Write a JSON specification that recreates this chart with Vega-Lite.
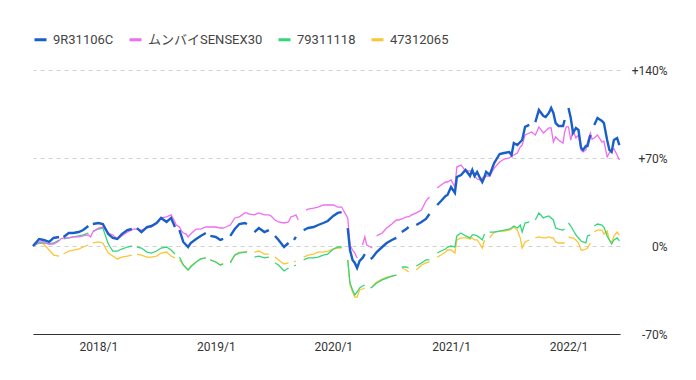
{
"$schema": "https://vega.github.io/schema/vega-lite/v6.json",
"width": 587, "height": 264,
"autosize": {"type": "none"},
"padding": {"left": 33, "top": 70, "right": 76, "bottom": 46},
"background": "white",
"config": {"view": {"stroke": null}, "font": "Roboto, 'Noto Sans CJK JP', sans-serif"},
"data": {"values": [
{"d":"2017-06-12","9R31106C":0,"ムンバイSENSEX30":0,"79311118":0,"47312065":0},
{"d":"2017-07-01","9R31106C":5.6,"ムンバイSENSEX30":3.2,"79311118":2.4,"47312065":2.4},
{"d":"2017-07-15","9R31106C":4.8,"ムンバイSENSEX30":3.2,"79311118":2.4,"47312065":1.6},
{"d":"2017-08-01","9R31106C":3.2,"ムンバイSENSEX30":1.6,"79311118":1.6,"47312065":-3.2},
{"d":"2017-08-15","9R31106C":6.4,"ムンバイSENSEX30":1.6,"79311118":2.4,"47312065":-7.2},
{"d":"2017-09-01","9R31106C":7.2,"ムンバイSENSEX30":4.0,"79311118":4.8,"47312065":-8.0},
{"d":"2017-09-06","9R31106C":null,"ムンバイSENSEX30":5.6,"79311118":null,"47312065":null},
{"d":"2017-09-15","9R31106C":7.2,"ムンバイSENSEX30":6.4,"79311118":5.6,"47312065":-6.4},
{"d":"2017-10-01","9R31106C":10.3,"ムンバイSENSEX30":6.4,"79311118":6.4,"47312065":-4.0},
{"d":"2017-10-15","9R31106C":10.3,"ムンバイSENSEX30":7.2,"79311118":7.2,"47312065":-3.2},
{"d":"2017-11-01","9R31106C":11.1,"ムンバイSENSEX30":7.2,"79311118":8.0,"47312065":-2.4},
{"d":"2017-11-15","9R31106C":12.7,"ムンバイSENSEX30":8.0,"79311118":8.8,"47312065":-0.8},
{"d":"2017-12-01","9R31106C":15.9,"ムンバイSENSEX30":8.8,"79311118":10.3,"47312065":0.8},
{"d":"2017-12-08","9R31106C":null,"ムンバイSENSEX30":7.2,"79311118":null,"47312065":null},
{"d":"2017-12-15","9R31106C":17.5,"ムンバイSENSEX30":11.1,"79311118":11.9,"47312065":2.4},
{"d":"2018-01-01","9R31106C":18.3,"ムンバイSENSEX30":14.3,"79311118":13.5,"47312065":3.2},
{"d":"2018-01-15","9R31106C":17.5,"ムンバイSENSEX30":15.1,"79311118":14.3,"47312065":2.4},
{"d":"2018-02-01","9R31106C":9.5,"ムンバイSENSEX30":10.3,"79311118":1.6,"47312065":-5.6},
{"d":"2018-02-15","9R31106C":6.4,"ムンバイSENSEX30":8.8,"79311118":-4.0,"47312065":-8.0},
{"d":"2018-03-01","9R31106C":5.6,"ムンバイSENSEX30":5.6,"79311118":-4.0,"47312065":-10.3},
{"d":"2018-03-15","9R31106C":9.5,"ムンバイSENSEX30":8.0,"79311118":-2.4,"47312065":-8.8},
{"d":"2018-04-01","9R31106C":12.7,"ムンバイSENSEX30":11.1,"79311118":-0.8,"47312065":-8.0},
{"d":"2018-04-15","9R31106C":13.5,"ムンバイSENSEX30":12.7,"79311118":0,"47312065":-7.2},
{"d":"2018-04-20","9R31106C":null,"ムンバイSENSEX30":13.5,"79311118":null,"47312065":null},
{"d":"2018-05-01","9R31106C":14.3,"ムンバイSENSEX30":13.5,"79311118":-0.8,"47312065":-6.4},
{"d":"2018-05-15","9R31106C":11.1,"ムンバイSENSEX30":12.7,"79311118":-1.6,"47312065":-7.2},
{"d":"2018-06-01","9R31106C":15.1,"ムンバイSENSEX30":14.3,"79311118":-4.8,"47312065":-8.8},
{"d":"2018-06-15","9R31106C":15.9,"ムンバイSENSEX30":15.1,"79311118":-5.6,"47312065":-8.8},
{"d":"2018-07-01","9R31106C":18.3,"ムンバイSENSEX30":18.3,"79311118":-4.0,"47312065":-8.0},
{"d":"2018-07-15","9R31106C":22.3,"ムンバイSENSEX30":22.3,"79311118":-1.6,"47312065":-5.6},
{"d":"2018-08-01","9R31106C":19.1,"ムンバイSENSEX30":23.1,"79311118":-0.8,"47312065":-4.8},
{"d":"2018-08-15","9R31106C":22.3,"ムンバイSENSEX30":24.7,"79311118":-3.2,"47312065":-8.0},
{"d":"2018-08-27","9R31106C":15.1,"ムンバイSENSEX30":19.1,"79311118":-6.4,"47312065":-9.5},
{"d":"2018-08-31","9R31106C":null,"ムンバイSENSEX30":16.7,"79311118":null,"47312065":null},
{"d":"2018-09-10","9R31106C":12.7,"ムンバイSENSEX30":15.1,"79311118":-8.8,"47312065":-11.1},
{"d":"2018-09-15","9R31106C":8.8,"ムンバイSENSEX30":12.7,"79311118":-11.1,"47312065":-12.7},
{"d":"2018-09-22","9R31106C":3.2,"ムンバイSENSEX30":10.3,"79311118":-15.1,"47312065":-15.1},
{"d":"2018-10-01","9R31106C":0.8,"ムンバイSENSEX30":9.5,"79311118":-17.5,"47312065":-17.5},
{"d":"2018-10-07","9R31106C":-0.8,"ムンバイSENSEX30":7.2,"79311118":-19.1,"47312065":-19.1},
{"d":"2018-10-15","9R31106C":2.4,"ムンバイSENSEX30":9.5,"79311118":-16.7,"47312065":-15.9},
{"d":"2018-11-01","9R31106C":5.6,"ムンバイSENSEX30":13.5,"79311118":-12.7,"47312065":-12.7},
{"d":"2018-11-15","9R31106C":8.0,"ムンバイSENSEX30":13.5,"79311118":-10.3,"47312065":-10.3},
{"d":"2018-12-01","9R31106C":10.3,"ムンバイSENSEX30":15.1,"79311118":-9.5,"47312065":-9.5},
{"d":"2018-12-08","9R31106C":null,"ムンバイSENSEX30":15.1,"79311118":null,"47312065":null},
{"d":"2018-12-15","9R31106C":8.0,"ムンバイSENSEX30":15.1,"79311118":-11.1,"47312065":-11.1},
{"d":"2019-01-01","9R31106C":7.2,"ムンバイSENSEX30":15.1,"79311118":-12.7,"47312065":-12.7},
{"d":"2019-01-15","9R31106C":4.8,"ムンバイSENSEX30":14.3,"79311118":-15.1,"47312065":-15.1},
{"d":"2019-01-24","9R31106C":5.6,"ムンバイSENSEX30":14.3,"79311118":-14.3,"47312065":-14.3},
{"d":"2019-02-01","9R31106C":null,"ムンバイSENSEX30":15.1,"79311118":null,"47312065":null},
{"d":"2019-02-15","9R31106C":8.0,"ムンバイSENSEX30":16.7,"79311118":-13.5,"47312065":-12.7},
{"d":"2019-03-01","9R31106C":13.5,"ムンバイSENSEX30":22.3,"79311118":-7.2,"47312065":-7.2},
{"d":"2019-03-15","9R31106C":17.5,"ムンバイSENSEX30":23.1,"79311118":-5.6,"47312065":-4.8},
{"d":"2019-04-01","9R31106C":18.3,"ムンバイSENSEX30":26.3,"79311118":-4.8,"47312065":-4.8},
{"d":"2019-04-08","9R31106C":17.5,"ムンバイSENSEX30":26.3,"79311118":-4.8,"47312065":-4.0},
{"d":"2019-04-12","9R31106C":null,"ムンバイSENSEX30":25.5,"79311118":null,"47312065":null},
{"d":"2019-05-01","9R31106C":11.1,"ムンバイSENSEX30":24.7,"79311118":-8.8,"47312065":-4.8},
{"d":"2019-05-15","9R31106C":14.3,"ムンバイSENSEX30":26.3,"79311118":-8.0,"47312065":-4.0},
{"d":"2019-06-01","9R31106C":11.1,"ムンバイSENSEX30":24.7,"79311118":-9.5,"47312065":-6.4},
{"d":"2019-06-15","9R31106C":12.7,"ムンバイSENSEX30":24.7,"79311118":-8.8,"47312065":-6.4},
{"d":"2019-06-22","9R31106C":null,"ムンバイSENSEX30":23.9,"79311118":null,"47312065":null},
{"d":"2019-07-04","9R31106C":8.0,"ムンバイSENSEX30":20.7,"79311118":-13.5,"47312065":-8.8},
{"d":"2019-07-15","9R31106C":4.8,"ムンバイSENSEX30":19.1,"79311118":-15.1,"47312065":-11.1},
{"d":"2019-08-01","9R31106C":-0.8,"ムンバイSENSEX30":18.3,"79311118":-19.9,"47312065":-14.3},
{"d":"2019-08-15","9R31106C":2.4,"ムンバイSENSEX30":19.1,"79311118":-17.5,"47312065":-13.5},
{"d":"2019-08-22","9R31106C":null,"ムンバイSENSEX30":23.1,"79311118":null,"47312065":null},
{"d":"2019-09-01","9R31106C":4.8,"ムンバイSENSEX30":23.9,"79311118":-15.9,"47312065":-12.7},
{"d":"2019-09-07","9R31106C":7.2,"ムンバイSENSEX30":24.7,"79311118":-15.1,"47312065":-11.9},
{"d":"2019-09-14","9R31106C":null,"ムンバイSENSEX30":20.7,"79311118":null,"47312065":null},
{"d":"2019-09-21","9R31106C":null,"ムンバイSENSEX30":null,"79311118":null,"47312065":null},
{"d":"2019-10-01","9R31106C":12.7,"ムンバイSENSEX30":null,"79311118":-11.1,"47312065":-8.8},
{"d":"2019-10-08","9R31106C":13.5,"ムンバイSENSEX30":28.6,"79311118":-10.3,"47312065":-8.0},
{"d":"2019-10-15","9R31106C":14.3,"ムンバイSENSEX30":29.4,"79311118":-9.5,"47312065":-7.2},
{"d":"2019-11-01","9R31106C":15.1,"ムンバイSENSEX30":30.2,"79311118":-9.5,"47312065":-6.4},
{"d":"2019-11-15","9R31106C":16.7,"ムンバイSENSEX30":31.0,"79311118":-8.8,"47312065":-4.8},
{"d":"2019-12-01","9R31106C":18.3,"ムンバイSENSEX30":32.6,"79311118":-7.2,"47312065":-4.8},
{"d":"2019-12-15","9R31106C":19.9,"ムンバイSENSEX30":32.6,"79311118":-6.4,"47312065":-4.0},
{"d":"2020-01-01","9R31106C":23.9,"ムンバイSENSEX30":32.6,"79311118":-2.4,"47312065":-2.4},
{"d":"2020-01-15","9R31106C":26.3,"ムンバイSENSEX30":31.0,"79311118":-0.8,"47312065":-1.6},
{"d":"2020-01-27","9R31106C":27.0,"ムンバイSENSEX30":31.0,"79311118":-0.8,"47312065":-1.6},
{"d":"2020-02-01","9R31106C":null,"ムンバイSENSEX30":28.6,"79311118":null,"47312065":null},
{"d":"2020-02-15","9R31106C":14.3,"ムンバイSENSEX30":22.3,"79311118":-11.1,"47312065":-11.1},
{"d":"2020-02-22","9R31106C":-3.2,"ムンバイSENSEX30":0.8,"79311118":-29.4,"47312065":-31.0},
{"d":"2020-03-01","9R31106C":-11.1,"ムンバイSENSEX30":-3.2,"79311118":-35.0,"47312065":-36.6},
{"d":"2020-03-08","9R31106C":-13.5,"ムンバイSENSEX30":-5.6,"79311118":-39.0,"47312065":-40.6},
{"d":"2020-03-15","9R31106C":-17.5,"ムンバイSENSEX30":-9.5,"79311118":-36.6,"47312065":-40.6},
{"d":"2020-03-23","9R31106C":-11.9,"ムンバイSENSEX30":null,"79311118":-33.4,"47312065":-35.0},
{"d":"2020-04-01","9R31106C":-9.5,"ムンバイSENSEX30":0.8,"79311118":-31.8,"47312065":-34.2},
{"d":"2020-04-08","9R31106C":-6.4,"ムンバイSENSEX30":7.2,"79311118":-31.0,"47312065":-33.4},
{"d":"2020-04-14","9R31106C":null,"ムンバイSENSEX30":0.8,"79311118":null,"47312065":null},
{"d":"2020-04-26","9R31106C":-10.3,"ムンバイSENSEX30":-0.8,"79311118":-33.4,"47312065":-33.4},
{"d":"2020-05-01","9R31106C":-9.5,"ムンバイSENSEX30":-1.6,"79311118":-32.6,"47312065":-32.6},
{"d":"2020-05-08","9R31106C":-7.2,"ムンバイSENSEX30":null,"79311118":-31.0,"47312065":-30.2},
{"d":"2020-05-15","9R31106C":-4.8,"ムンバイSENSEX30":8.0,"79311118":-29.4,"47312065":-28.6},
{"d":"2020-06-01","9R31106C":-0.8,"ムンバイSENSEX30":10.3,"79311118":-27.0,"47312065":-26.3},
{"d":"2020-06-15","9R31106C":2.4,"ムンバイSENSEX30":14.3,"79311118":-25.5,"47312065":-24.7},
{"d":"2020-07-01","9R31106C":4.8,"ムンバイSENSEX30":17.5,"79311118":-23.9,"47312065":-23.9},
{"d":"2020-07-15","9R31106C":6.4,"ムンバイSENSEX30":20.7,"79311118":-23.1,"47312065":-23.1},
{"d":"2020-07-22","9R31106C":null,"ムンバイSENSEX30":20.7,"79311118":null,"47312065":null},
{"d":"2020-08-01","9R31106C":11.1,"ムンバイSENSEX30":21.5,"79311118":-16.7,"47312065":-17.5},
{"d":"2020-08-15","9R31106C":13.5,"ムンバイSENSEX30":23.1,"79311118":-16.7,"47312065":-19.1},
{"d":"2020-08-22","9R31106C":15.1,"ムンバイSENSEX30":23.1,"79311118":-17.5,"47312065":-20.7},
{"d":"2020-09-01","9R31106C":null,"ムンバイSENSEX30":24.7,"79311118":null,"47312065":null},
{"d":"2020-09-15","9R31106C":16.7,"ムンバイSENSEX30":26.3,"79311118":-15.9,"47312065":-19.1},
{"d":"2020-10-01","9R31106C":19.1,"ムンバイSENSEX30":28.6,"79311118":-13.5,"47312065":-15.1},
{"d":"2020-10-15","9R31106C":21.5,"ムンバイSENSEX30":35.8,"79311118":-11.1,"47312065":-13.5},
{"d":"2020-10-26","9R31106C":25.5,"ムンバイSENSEX30":39.0,"79311118":-11.1,"47312065":-12.7},
{"d":"2020-11-01","9R31106C":null,"ムンバイSENSEX30":null,"79311118":null,"47312065":null},
{"d":"2020-11-10","9R31106C":null,"ムンバイSENSEX30":null,"79311118":null,"47312065":null},
{"d":"2020-11-19","9R31106C":32.6,"ムンバイSENSEX30":46.1,"79311118":-5.6,"47312065":-8.8},
{"d":"2020-12-01","9R31106C":35.8,"ムンバイSENSEX30":48.5,"79311118":-4.0,"47312065":-7.2},
{"d":"2020-12-15","9R31106C":39.8,"ムンバイSENSEX30":50.9,"79311118":-2.4,"47312065":-4.8},
{"d":"2020-12-21","9R31106C":40.6,"ムンバイSENSEX30":50.9,"79311118":-0.8,"47312065":-3.2},
{"d":"2021-01-01","9R31106C":46.9,"ムンバイSENSEX30":52.5,"79311118":0,"47312065":-3.2},
{"d":"2021-01-13","9R31106C":42.2,"ムンバイSENSEX30":46.9,"79311118":-0.8,"47312065":-5.6},
{"d":"2021-01-19","9R31106C":54.9,"ムンバイSENSEX30":62.8,"79311118":8.0,"47312065":4.8},
{"d":"2021-02-01","9R31106C":56.5,"ムンバイSENSEX30":64.4,"79311118":10.3,"47312065":6.4},
{"d":"2021-02-15","9R31106C":60.5,"ムンバイSENSEX30":59.7,"79311118":8.0,"47312065":6.4},
{"d":"2021-03-01","9R31106C":55.7,"ムンバイSENSEX30":59.7,"79311118":6.4,"47312065":5.6},
{"d":"2021-03-08","9R31106C":60.5,"ムンバイSENSEX30":58.9,"79311118":8.8,"47312065":6.4},
{"d":"2021-03-15","9R31106C":55.7,"ムンバイSENSEX30":55.7,"79311118":8.8,"47312065":4.8},
{"d":"2021-03-23","9R31106C":58.9,"ムンバイSENSEX30":53.3,"79311118":8.0,"47312065":4.8},
{"d":"2021-04-01","9R31106C":54.1,"ムンバイSENSEX30":52.5,"79311118":6.4,"47312065":1.6},
{"d":"2021-04-08","9R31106C":50.9,"ムンバイSENSEX30":54.1,"79311118":4.8,"47312065":-1.6},
{"d":"2021-04-15","9R31106C":54.9,"ムンバイSENSEX30":55.7,"79311118":9.5,"47312065":4.8},
{"d":"2021-04-20","9R31106C":58.9,"ムンバイSENSEX30":55.7,"79311118":null,"47312065":null},
{"d":"2021-05-01","9R31106C":56.5,"ムンバイSENSEX30":55.7,"79311118":11.1,"47312065":6.4},
{"d":"2021-05-15","9R31106C":66.0,"ムンバイSENSEX30":62.0,"79311118":11.1,"47312065":11.1},
{"d":"2021-06-01","9R31106C":73.2,"ムンバイSENSEX30":66.8,"79311118":11.9,"47312065":11.9},
{"d":"2021-06-15","9R31106C":74.0,"ムンバイSENSEX30":69.2,"79311118":12.7,"47312065":11.9},
{"d":"2021-07-01","9R31106C":74.8,"ムンバイSENSEX30":70.0,"79311118":13.5,"47312065":12.7},
{"d":"2021-07-08","9R31106C":72.4,"ムンバイSENSEX30":71.6,"79311118":14.3,"47312065":13.5},
{"d":"2021-07-15","9R31106C":81.9,"ムンバイSENSEX30":72.4,"79311118":15.9,"47312065":15.1},
{"d":"2021-07-26","9R31106C":80.3,"ムンバイSENSEX30":74.0,"79311118":14.3,"47312065":12.7},
{"d":"2021-08-04","9R31106C":82.7,"ムンバイSENSEX30":78.8,"79311118":16.7,"47312065":6.4},
{"d":"2021-08-10","9R31106C":84.3,"ムンバイSENSEX30":80.3,"79311118":11.1,"47312065":-1.6},
{"d":"2021-08-19","9R31106C":94.7,"ムンバイSENSEX30":88.3,"79311118":18.3,"47312065":3.2},
{"d":"2021-09-01","9R31106C":96.3,"ムンバイSENSEX30":89.9,"79311118":19.1,"47312065":4.8},
{"d":"2021-09-08","9R31106C":null,"ムンバイSENSEX30":90.7,"79311118":null,"47312065":null},
{"d":"2021-09-20","9R31106C":98.6,"ムンバイSENSEX30":88.3,"79311118":20.7,"47312065":6.4},
{"d":"2021-10-01","9R31106C":108.2,"ムンバイSENSEX30":94.7,"79311118":26.3,"47312065":7.2},
{"d":"2021-10-15","9R31106C":103.4,"ムンバイSENSEX30":89.9,"79311118":22.3,"47312065":6.4},
{"d":"2021-10-22","9R31106C":102.6,"ムンバイSENSEX30":91.5,"79311118":23.1,"47312065":6.4},
{"d":"2021-11-01","9R31106C":105.8,"ムンバイSENSEX30":93.9,"79311118":23.9,"47312065":7.2},
{"d":"2021-11-08","9R31106C":109.8,"ムンバイSENSEX30":93.9,"79311118":22.3,"47312065":6.4},
{"d":"2021-11-15","9R31106C":105.8,"ムンバイSENSEX30":82.7,"79311118":20.7,"47312065":6.4},
{"d":"2021-11-22","9R31106C":97.8,"ムンバイSENSEX30":86.7,"79311118":14.3,"47312065":3.2},
{"d":"2021-12-01","9R31106C":95.5,"ムンバイSENSEX30":84.3,"79311118":13.5,"47312065":2.4},
{"d":"2021-12-15","9R31106C":95.5,"ムンバイSENSEX30":81.9,"79311118":12.7,"47312065":2.4},
{"d":"2021-12-20","9R31106C":100.2,"ムンバイSENSEX30":90.7,"79311118":13.5,"47312065":2.4},
{"d":"2021-12-25","9R31106C":null,"ムンバイSENSEX30":94.7,"79311118":null,"47312065":null},
{"d":"2022-01-01","9R31106C":109.8,"ムンバイSENSEX30":94.7,"79311118":18.3,"47312065":7.2},
{"d":"2022-01-08","9R31106C":101.8,"ムンバイSENSEX30":84.3,"79311118":15.9,"47312065":6.4},
{"d":"2022-01-15","9R31106C":89.9,"ムンバイSENSEX30":92.3,"79311118":12.7,"47312065":6.4},
{"d":"2022-01-24","9R31106C":93.9,"ムンバイSENSEX30":85.9,"79311118":8.8,"47312065":4.8},
{"d":"2022-02-01","9R31106C":92.3,"ムンバイSENSEX30":88.3,"79311118":6.4,"47312065":2.4},
{"d":"2022-02-09","9R31106C":78.0,"ムンバイSENSEX30":76.4,"79311118":4.0,"47312065":-3.2},
{"d":"2022-02-15","9R31106C":76.4,"ムンバイSENSEX30":74.8,"79311118":3.2,"47312065":-3.2},
{"d":"2022-02-24","9R31106C":79.5,"ムンバイSENSEX30":76.4,"79311118":2.4,"47312065":-2.4},
{"d":"2022-03-01","9R31106C":79.5,"ムンバイSENSEX30":82.7,"79311118":8.0,"47312065":-1.6},
{"d":"2022-03-10","9R31106C":88.3,"ムンバイSENSEX30":89.9,"79311118":8.8,"47312065":2.4},
{"d":"2022-03-15","9R31106C":null,"ムンバイSENSEX30":85.1,"79311118":null,"47312065":null},
{"d":"2022-03-22","9R31106C":96.3,"ムンバイSENSEX30":85.9,"79311118":15.9,"47312065":11.1},
{"d":"2022-04-01","9R31106C":101.8,"ムンバイSENSEX30":88.3,"79311118":17.5,"47312065":12.7},
{"d":"2022-04-15","9R31106C":99.4,"ムンバイSENSEX30":82.7,"79311118":16.7,"47312065":12.7},
{"d":"2022-04-21","9R31106C":97.8,"ムンバイSENSEX30":83.5,"79311118":15.1,"47312065":9.5},
{"d":"2022-05-01","9R31106C":84.3,"ムンバイSENSEX30":70.8,"79311118":8.0,"47312065":11.9},
{"d":"2022-05-08","9R31106C":76.4,"ムンバイSENSEX30":74.0,"79311118":4.8,"47312065":4.8},
{"d":"2022-05-15","9R31106C":74.8,"ムンバイSENSEX30":76.4,"79311118":1.6,"47312065":2.4},
{"d":"2022-05-22","9R31106C":84.3,"ムンバイSENSEX30":77.2,"79311118":4.8,"47312065":8.0},
{"d":"2022-06-01","9R31106C":85.9,"ムンバイSENSEX30":72.4,"79311118":6.4,"47312065":11.1},
{"d":"2022-06-08","9R31106C":80.3,"ムンバイSENSEX30":68.4,"79311118":4.0,"47312065":8.8}
]},
"transform": [{"fold": ["47312065", "79311118", "ムンバイSENSEX30", "9R31106C"], "as": ["series", "value"]}],
"encoding": {
  "x": {"field": "d", "type": "temporal",
    "scale": {"type": "utc", "domain": [{"year": 2017, "month": 6, "date": 12, "utc": true}, {"year": 2022, "month": 6, "date": 10, "utc": true}]},
    "axis": {"title": null, "grid": false, "ticks": false, "domainColor": "#333", "domainWidth": 1,
      "values": [{"year": 2018, "month": 1, "date": 1, "utc": true}, {"year": 2019, "month": 1, "date": 1, "utc": true}, {"year": 2020, "month": 1, "date": 1, "utc": true}, {"year": 2021, "month": 1, "date": 1, "utc": true}, {"year": 2022, "month": 1, "date": 1, "utc": true}],
      "labelExpr": "utcFormat(datum.value, '%Y/%-m')", "labelColor": "#333", "labelFontSize": 12, "labelPadding": 7}},
  "y": {"field": "value", "type": "quantitative",
    "scale": {"domain": [-70, 140], "nice": false, "zero": false},
    "axis": {"orient": "right", "title": null, "values": [-70, 0, 70, 140], "domain": false, "ticks": false,
      "grid": true, "gridDash": [4, 4], "gridColor": "#d0d0d0",
      "labelExpr": "datum.value > 0 ? '+' + datum.value + '%' : datum.value + '%'",
      "labelAlign": "right", "labelBaseline": "middle", "labelPadding": 47, "labelColor": "#333", "labelFontSize": 12}},
  "color": {"field": "series", "type": "nominal",
    "scale": {"domain": ["9R31106C", "ムンバイSENSEX30", "79311118", "47312065"], "range": ["#1a5fc7", "#f06cf2", "#33d67a", "#fdc534"]},
    "legend": {"orient": "none", "legendX": 0, "legendY": -38, "direction": "horizontal", "title": null,
      "symbolType": "stroke", "symbolStrokeWidth": 3, "symbolSize": 144, "labelFontSize": 13, "labelColor": "#444",
      "columnPadding": 9, "labelOffset": 5}}
},
"layer": [
  {"transform": [{"filter": "datum.series !== '9R31106C'"}], "mark": {"type": "line", "strokeWidth": 1.3}},
  {"transform": [{"filter": "datum.series === '9R31106C'"}], "mark": {"type": "line", "strokeWidth": 2.4}}
]
}
